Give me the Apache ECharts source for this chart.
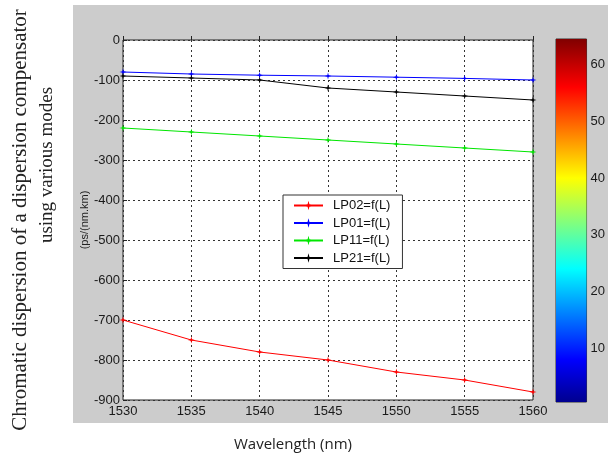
<!DOCTYPE html>
<html>
<head>
<meta charset="utf-8">
<script src="https://cdn.jsdelivr.net/npm/echarts@6/dist/echarts.min.js"></script>
<style>
  html, body { margin: 0; padding: 0; background: #fff; }
  #chart { width: 608px; height: 457px; }
</style>
</head>
<body>
<div id="chart"></div>
<script>
// Wavelength samples (nm)
const wavelengths = [1530, 1535, 1540, 1545, 1550, 1555, 1560];

// Chromatic dispersion per mode, ps/(nm.km)
const lp02 = [-700, -750, -780, -800, -830, -850, -880];
const lp01 = [-80, -85, -88, -90, -93, -96, -100];
const lp11 = [-220, -230, -240, -250, -260, -270, -280];
const lp21 = [-90, -95, -100, -120, -130, -140, -150];

const seriesNames = ['LP02=f(L)', 'LP01=f(L)', 'LP11=f(L)', 'LP21=f(L)'];
const seriesColors = ['#ff0000', '#0000ff', '#00e600', '#000000'];
const seriesData = [lp02, lp01, lp11, lp21];

// Colour bar scale (jet colormap, 64 entries)
const colorbarMin = 0.5;
const colorbarMax = 64.5;
const colorbarTicks = [10, 20, 30, 40, 50, 60];

// asterisk-like marker
const starPath = 'path://M0,-5 L1,-1 L5,0 L1,1 L0,5 L-1,1 L-5,0 L-1,-1 Z';

const FONT = '"Liberation Sans", Arial, sans-serif';

const chart = echarts.init(document.getElementById('chart'), null, { renderer: 'canvas' });

const lineSeries = seriesData.map((vals, i) => ({
  name: seriesNames[i],
  type: 'line',
  xAxisIndex: 0,
  yAxisIndex: 0,
  data: wavelengths.map((w, k) => [w, vals[k]]),
  symbol: starPath,
  symbolSize: 7,
  showSymbol: true,
  lineStyle: { color: seriesColors[i], width: 1 },
  itemStyle: { color: seriesColors[i] },
  animation: false
}));

const option = {
  animation: false,
  graphic: [
    {
      type: 'rect',
      z: -100,
      shape: { x: 73, y: 5, width: 535, height: 418 },
      style: { fill: '#cccccc' }
    },
    {
      type: 'text',
      x: 20, y: 220,
      rotation: Math.PI / 2,
      style: {
        text: 'Chromatic dispersion of a dispersion compensator',
        font: '21px "Liberation Serif", "Times New Roman", serif',
        fill: '#222',
        align: 'center',
        verticalAlign: 'middle'
      }
    },
    {
      type: 'text',
      x: 47, y: 165,
      rotation: Math.PI / 2,
      style: {
        text: 'using various modes',
        font: '19px "Liberation Serif", "Times New Roman", serif',
        fill: '#222',
        align: 'center',
        verticalAlign: 'middle'
      }
    },
    {
      type: 'text',
      x: 293, y: 445,
      style: {
        text: 'Wavelength (nm)',
        font: '15px "Open Sans", "Noto Sans", sans-serif',
        fill: '#222',
        align: 'center',
        verticalAlign: 'middle'
      }
    }
  ],
  grid: [
    {
      left: 123, top: 40, width: 410, height: 360,
      show: true, backgroundColor: '#ffffff',
      borderColor: '#222', borderWidth: 1
    },
    {
      left: 556, top: 39, width: 36, height: 363,
      show: true, backgroundColor: 'transparent',
      borderColor: '#333', borderWidth: 1
    }
  ],
  legend: {
    data: seriesNames,
    orient: 'vertical',
    left: 283, top: 195,
    itemWidth: 29, itemHeight: 12, itemGap: 4.5,
    padding: [4, 12, 4, 10],
    backgroundColor: '#ffffff',
    borderColor: '#333', borderWidth: 1,
    textStyle: { fontFamily: FONT, fontSize: 13, color: '#111', padding: [0, 0, 0, 5] }
  },
  xAxis: [
    {
      gridIndex: 0,
      type: 'value',
      min: 1530, max: 1560, interval: 5,
      axisLine: { show: false },
      axisTick: { show: true, inside: true, length: 4, lineStyle: { color: '#222' } },
      axisLabel: {
        fontFamily: FONT, fontSize: 13, color: '#1a1a1a', margin: 5,
        formatter: v => String(v)
      },
      splitLine: { show: true, lineStyle: { color: '#333', type: [2, 3], width: 1 } }
    },
    {
      gridIndex: 1,
      type: 'category',
      data: ['c'],
      show: false
    }
  ],
  yAxis: [
    {
      gridIndex: 0,
      type: 'value',
      min: -900, max: 0, interval: 100,
      name: '(ps/(nm.km)',
      nameLocation: 'middle',
      nameGap: 33,
      nameMoveOverlap: false,
      nameRotate: 90,
      nameTextStyle: { fontFamily: FONT, fontSize: 11, color: '#222' },
      axisLine: { show: false },
      axisTick: { show: true, inside: true, length: 4, lineStyle: { color: '#222' } },
      axisLabel: { fontFamily: FONT, fontSize: 13, color: '#1a1a1a', margin: 3 },
      splitLine: { show: true, lineStyle: { color: '#333', type: [2, 3], width: 1 } }
    },
    {
      gridIndex: 1,
      type: 'value',
      position: 'right',
      min: colorbarMin, max: colorbarMax,
      axisLine: { show: false },
      axisTick: { show: true, inside: true, length: 3, customValues: colorbarTicks, lineStyle: { color: '#333' } },
      axisLabel: { fontFamily: FONT, fontSize: 13, color: '#1a1a1a', margin: 4, customValues: colorbarTicks },
      splitLine: { show: false }
    }
  ],
  series: lineSeries.concat([
    {
      type: 'bar',
      xAxisIndex: 1,
      yAxisIndex: 1,
      data: [colorbarMax],
      barWidth: '100%',
      clip: true,
      silent: true,
      legendHoverLink: false,
      itemStyle: {
        color: {
          type: 'linear', x: 0, y: 1, x2: 0, y2: 0,
          colorStops: [
            { offset: 0, color: '#00008f' },
            { offset: 0.117, color: '#0000ff' },
            { offset: 0.367, color: '#00ffff' },
            { offset: 0.617, color: '#ffff00' },
            { offset: 0.867, color: '#ff0000' },
            { offset: 1, color: '#800000' }
          ]
        }
      },
      z: 1
    }
  ])
};

chart.setOption(option);
</script>
</body>
</html>
